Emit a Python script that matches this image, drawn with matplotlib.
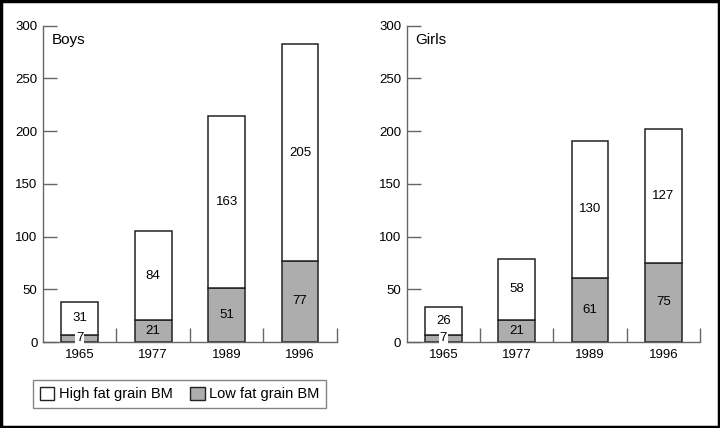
import matplotlib.pyplot as plt
from matplotlib.patches import Patch, Rectangle

years = ['1965', '1977', '1989', '1996']
boys_low = [7, 21, 51, 77]
boys_high = [31, 84, 163, 205]
girls_low = [7, 21, 61, 75]
girls_high = [26, 58, 130, 127]

GRAY = '#adadad'
EDGE = '#222222'
AXC = '#666666'

plt.rcParams['font.family'] = ['Liberation Sans', 'DejaVu Sans']

fig = plt.figure(figsize=(7.2, 4.28), dpi=100)
ax1 = fig.add_axes([0.0597, 0.2009, 0.408, 0.7395])
ax2 = fig.add_axes([0.565, 0.2009, 0.4074, 0.7395])


def panel(ax, low, high, title):
    x = range(len(years))
    ax.bar(x, low, width=0.5, color=GRAY, edgecolor=EDGE, linewidth=1.1, zorder=2)
    ax.bar(x, high, width=0.5, bottom=low, color='white', edgecolor=EDGE, linewidth=1.1, zorder=2)
    for i in x:
        ax.text(i, low[i] / 2, str(low[i]), ha='center', va='center', fontsize=9.5, zorder=3,
                bbox=dict(facecolor='white', edgecolor='none', pad=0.5) if low[i] < 15 else None)
        ax.text(i, low[i] + high[i] / 2, str(high[i]), ha='center', va='center', fontsize=9.5, zorder=3)
    ax.set_xlim(-0.5, len(years) - 0.5)
    ax.set_ylim(0, 300)
    ax.set_yticks([0, 50, 100, 150, 200, 250, 300])
    ax.set_xticks(list(x))
    ax.set_xticklabels(years)
    ax.set_xticks([0.5, 1.5, 2.5, 3.5], minor=True)
    ax.tick_params(axis='x', which='major', length=0, labelsize=9.5, pad=5)
    ax.tick_params(axis='x', which='minor', direction='in', length=10, color=AXC, width=1)
    ax.tick_params(axis='y', direction='in', length=10, color=AXC, width=1, labelsize=9.5, pad=4)
    for s in ['top', 'right']:
        ax.spines[s].set_visible(False)
    for s in ['left', 'bottom']:
        ax.spines[s].set_color(AXC)
        ax.spines[s].set_linewidth(1)
    ax.text(0.03, 0.955, title, transform=ax.transAxes, fontsize=11, va='center', ha='left')


panel(ax1, boys_low, boys_high, 'Boys')
panel(ax2, girls_low, girls_high, 'Girls')

handles = [Patch(facecolor='white', edgecolor=EDGE, label='High fat grain BM'),
           Patch(facecolor=GRAY, edgecolor=EDGE, label='Low fat grain BM')]
leg = fig.legend(handles=handles, loc='lower left', bbox_to_anchor=(0.036, 0.03), ncol=2,
                 fontsize=10.5, frameon=True, fancybox=False, handlelength=1.0, handleheight=1.0,
                 handletextpad=0.3, columnspacing=1.2, borderpad=0.45)
leg.get_frame().set_edgecolor(AXC)
leg.get_frame().set_linewidth(1)

fig.patches.append(Rectangle((0.002, 0.003), 0.996, 0.994, transform=fig.transFigure,
                             fill=False, edgecolor='black', linewidth=2.5))

fig.savefig('out.png', dpi=100)
